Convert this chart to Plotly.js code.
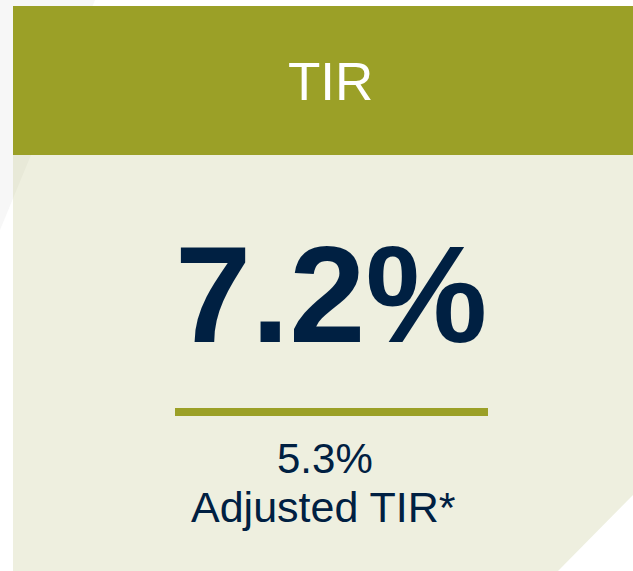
<!DOCTYPE html>
<html>
<head>
<meta charset="utf-8">
<script src="https://cdn.plot.ly/plotly-3.0.1.min.js"></script>
<style>html,body{margin:0;padding:0;background:#fff;overflow:hidden}#chart{width:633px;height:571px}</style>
</head>
<body>
<div id="chart"></div>
<script>
// Data
const kpiTitle = ["TIR"];
const kpiValues = [7.2];
const kpiAdjusted = [5.3];
const kpiAdjustedLabel = ["Adjusted TIR*"];

const GREEN = "#9ba027";
const BODY = "#eeefdf";
const NAVY = "#002042";
const FONT = "Liberation Sans, Arial, sans-serif";

const fmt = v => v.toFixed(1) + "%";

const shapes = [
  // light grey diagonal background
  {type:"path", path:"M0,0 L95,0 L0,230 Z", fillcolor:"#f7f7f7", line:{width:0}, layer:"below"},
  // header
  {type:"rect", x0:13, x1:633, y0:6, y1:155, fillcolor:GREEN, line:{width:0}, layer:"below"},
  // body with cut corner
  {type:"path", path:"M13,155 L633,155 L633,495 L558,571 L13,571 Z", fillcolor:BODY, line:{width:0}, layer:"below"},
  // faint diagonal overlay on body
  {type:"path", path:"M13,155 L31,155 L13,198.5 Z", fillcolor:"#e8e9d8", line:{width:0}, layer:"below"},
  // separator line
  {type:"rect", x0:175, x1:488, y0:408, y1:416, fillcolor:GREEN, line:{width:0}, layer:"below"}
];

const annotations = [
  {x:330.5, y:81, text:kpiTitle[0], font:{family:FONT, size:53, color:"#ffffff"}},
  {x:330.5, y:294, text:fmt(kpiValues[0]), font:{family:FONT, size:137, color:NAVY, weight:"bold"}},
  {x:325, y:458, text:fmt(kpiAdjusted[0]), font:{family:FONT, size:42, color:NAVY}},
  {x:323, y:507, text:kpiAdjustedLabel[0], font:{family:FONT, size:43, color:NAVY}}
].map(a => Object.assign({xref:"x", yref:"y", showarrow:false, xanchor:"center", yanchor:"middle"}, a));

const layout = {
  width:633, height:571,
  margin:{l:0, r:0, t:0, b:0},
  paper_bgcolor:"#ffffff", plot_bgcolor:"rgba(0,0,0,0)",
  xaxis:{range:[0,633], visible:false, fixedrange:true},
  yaxis:{range:[571,0], visible:false, fixedrange:true},
  showlegend:false,
  shapes:shapes,
  annotations:annotations
};

Plotly.newPlot("chart", [{x:[], y:[], type:"scatter", hoverinfo:"skip"}], layout, {staticPlot:true, displayModeBar:false});
</script>
</body>
</html>
